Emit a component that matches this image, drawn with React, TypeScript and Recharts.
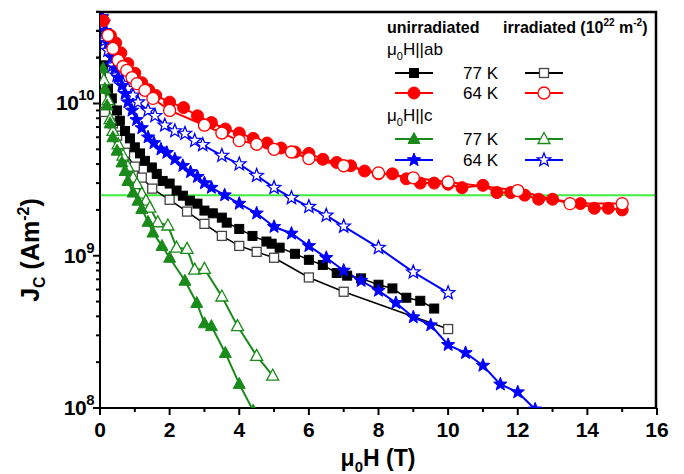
import { LineChart, Line, XAxis, YAxis, ReferenceLine } from "recharts"

const FONT = '"Liberation Sans", Arial, Helvetica, sans-serif'

// field (T), Jc (A/m^2)
const ab77Unirr: [number, number][] = [
  [0.09, 1.78e10], [0.23, 1.25e10], [0.34, 1.08e10], [0.49, 9.0e9], [0.57, 7.7e9], [0.72, 6.6e9],
  [0.86, 5.9e9], [1.0, 5.15e9], [1.15, 4.7e9], [1.29, 4.2e9], [1.49, 3.8e9], [1.63, 3.45e9],
  [1.8, 3.1e9], [2.0, 2.98e9], [2.2, 2.68e9], [2.38, 2.48e9], [2.58, 2.3e9], [2.8, 2.2e9],
  [3.0, 1.98e9], [3.24, 1.9e9], [3.5, 1.78e9], [3.64, 1.65e9], [4.0, 1.5e9], [4.38, 1.35e9],
  [4.78, 1.24e9], [4.93, 1.2e9], [5.16, 1.13e9], [5.6, 1.03e9], [6.0, 9.4e8], [6.4, 8.7e8],
  [6.8, 7.7e8], [7.1, 7.4e8], [7.5, 7.1e8], [8.0, 6.45e8], [8.4, 6.1e8], [8.8, 5.3e8],
  [9.2, 5.06e8], [9.6, 4.5e8],
]
const ab77Irr: [number, number][] = [
  [0.14, 8.8e9], [0.37, 7.4e9], [0.49, 6.15e9], [0.72, 4.75e9], [1.0, 3.85e9], [1.2, 3.26e9],
  [1.5, 2.76e9], [2.0, 2.33e9], [2.5, 1.95e9], [3.0, 1.62e9], [3.5, 1.35e9], [4.0, 1.16e9],
  [4.5, 1.06e9], [5.0, 9.7e8], [6.0, 7.2e8], [7.0, 5.8e8], [10.0, 3.3e8],
]
const ab64Unirr: [number, number][] = [
  [0.1, 3.5e10], [0.3, 2.8e10], [0.45, 2.5e10], [0.6, 2.15e10], [0.8, 1.83e10], [1.0, 1.58e10],
  [1.2, 1.37e10], [1.4, 1.23e10], [1.6, 1.13e10], [2.0, 1.02e10], [2.4, 9.4e9], [2.8, 8.3e9],
  [3.2, 7.5e9], [3.6, 6.8e9], [4.0, 6.4e9], [4.4, 5.9e9], [4.8, 5.5e9], [5.2, 5.1e9],
  [5.6, 4.8e9], [6.0, 4.7e9], [6.4, 4.3e9], [6.8, 4.1e9], [7.2, 3.9e9], [7.6, 3.6e9],
  [8.0, 3.45e9], [8.4, 3.45e9], [8.8, 3.2e9], [9.2, 3.0e9], [9.6, 3.0e9], [10.0, 2.95e9],
  [10.4, 2.8e9], [11.0, 2.9e9], [11.4, 2.6e9], [11.8, 2.6e9], [12.2, 2.5e9], [12.6, 2.35e9],
  [13.0, 2.35e9], [13.8, 2.2e9], [14.2, 2.05e9], [14.6, 2.05e9], [15.0, 2.0e9],
]
const ab64Irr: [number, number][] = [
  [0.23, 2.8e10], [0.37, 2.3e10], [0.52, 1.92e10], [0.66, 1.75e10], [0.77, 1.65e10], [0.92, 1.48e10],
  [1.06, 1.35e10], [1.29, 1.22e10], [1.52, 1.08e10], [2.0, 9.0e9], [3.0, 7.2e9], [3.5, 6.4e9],
  [4.0, 5.7e9], [4.5, 5.4e9], [5.0, 5.0e9], [5.5, 4.8e9], [6.0, 4.35e9], [7.0, 3.9e9],
  [8.0, 3.5e9], [9.0, 3.25e9], [10.0, 3.05e9], [12.0, 2.68e9], [13.5, 2.2e9], [15.0, 2.2e9],
]
const c77Unirr: [number, number][] = [
  [0.09, 1.7e10], [0.14, 1.25e10], [0.2, 9.7e9], [0.29, 7.4e9], [0.37, 6.0e9], [0.49, 4.9e9],
  [0.63, 4.1e9], [0.72, 3.6e9], [0.8, 3.1e9], [0.95, 2.6e9], [1.09, 2.3e9], [1.2, 2.03e9],
  [1.38, 1.67e9], [1.52, 1.42e9], [1.78, 1.16e9], [2.0, 9.7e8], [2.44, 6.85e8], [2.78, 4.9e8],
  [3.0, 3.6e8], [3.2, 3.45e8], [3.6, 2.3e8], [4.0, 1.44e8], [4.4, 9.6e7],
]
const c77Irr: [number, number][] = [
  [0.11, 1.42e10], [0.23, 1.05e10], [0.29, 7.9e9], [0.37, 6.6e9], [0.52, 5.4e9], [0.66, 4.55e9],
  [0.8, 3.85e9], [0.95, 3.26e9], [1.06, 2.95e9], [1.2, 2.56e9], [1.32, 2.3e9], [1.43, 2.07e9],
  [1.66, 1.66e9], [1.95, 1.58e9], [2.2, 1.13e9], [2.5, 1.11e9], [2.72, 8.1e8], [3.0, 8.2e8],
  [3.5, 5.4e8], [3.95, 3.45e8], [4.5, 2.2e8], [4.96, 1.63e8],
]
const c64Unirr: [number, number][] = [
  [0.06, 3.7e10], [0.14, 3.0e10], [0.23, 2.5e10], [0.34, 2.0e10], [0.43, 1.7e10], [0.52, 1.48e10],
  [0.63, 1.31e10], [0.72, 1.16e10], [0.8, 1.02e10], [0.92, 9.0e9], [1.05, 7.8e9], [1.2, 6.9e9],
  [1.38, 6.0e9], [1.55, 5.5e9], [1.75, 5.0e9], [1.92, 4.75e9], [2.15, 4.3e9], [2.38, 3.9e9],
  [2.6, 3.55e9], [2.8, 3.3e9], [3.0, 3.0e9], [3.2, 2.8e9], [3.58, 2.5e9], [4.0, 2.2e9],
  [4.5, 1.9e9], [5.0, 1.55e9], [5.5, 1.4e9], [6.0, 1.16e9], [6.5, 9.7e8], [7.0, 8.0e8],
  [7.5, 6.85e8], [8.0, 5.9e8], [8.5, 4.9e8], [9.0, 3.95e8], [9.5, 3.5e8], [10.0, 2.6e8],
  [10.5, 2.3e8], [11.0, 1.9e8], [11.5, 1.43e8], [12.0, 1.27e8], [12.5, 9.8e7],
]
const c64Irr: [number, number][] = [
  [0.09, 3.4e10], [0.14, 2.6e10], [0.23, 2.23e10], [0.37, 1.78e10], [0.49, 1.53e10], [0.66, 1.35e10],
  [0.8, 1.25e10], [0.95, 1.13e10], [1.09, 1.02e10], [1.38, 9.0e9], [1.58, 8.3e9], [1.86, 7.2e9],
  [2.15, 6.6e9], [2.44, 6.35e9], [2.72, 5.7e9], [2.95, 5.35e9], [3.5, 4.55e9], [4.0, 4.0e9],
  [4.5, 3.36e9], [5.0, 2.8e9], [5.5, 2.4e9], [6.0, 2.1e9], [6.5, 1.84e9], [7.0, 1.56e9],
  [8.0, 1.13e9], [9.0, 7.8e8], [10.0, 5.7e8],
]

const xTicks = [0, 1, 2, 3, 4, 5, 6, 7, 8, 9, 10, 11, 12, 13, 14, 15, 16]
const yDecades = [1e8, 1e9, 1e10]
const yTicks = [...yDecades.flatMap((d) => [1, 2, 3, 4, 5, 6, 7, 8, 9].map((m) => m * d)), 2e10, 3e10, 4e10]
const xDomain: [number, number] = [0, 16]
const yDomain: [number, number] = [1e8, 4.05e10]
const threshold = 2.5e9

// chart box
const W = 676
const H = 466
const MARGIN = { top: 3, right: 27, bottom: 6, left: 0 }
const Y_AXIS_W = 92
const X_AXIS_H = 60
const PLOT = {
  x: MARGIN.left + Y_AXIS_W,
  y: MARGIN.top,
  w: W - MARGIN.left - MARGIN.right - Y_AXIS_W,
  h: H - MARGIN.top - MARGIN.bottom - X_AXIS_H,
}

type Shape = "square" | "circle" | "triangle" | "star"

const SERIES = [
  { key: "ab77i", points: ab77Irr, color: "#000000", shape: "square" as Shape, open: true, width: 1.5 },
  { key: "ab77u", points: ab77Unirr, color: "#000000", shape: "square" as Shape, open: false, width: 1.5 },
  { key: "c77i", points: c77Irr, color: "#1a8a1a", shape: "triangle" as Shape, open: true, width: 2 },
  { key: "c77u", points: c77Unirr, color: "#1a8a1a", shape: "triangle" as Shape, open: false, width: 2 },
  { key: "c64i", points: c64Irr, color: "#0000ff", shape: "star" as Shape, open: true, width: 2 },
  { key: "c64u", points: c64Unirr, color: "#0000ff", shape: "star" as Shape, open: false, width: 2 },
  { key: "ab64u", points: ab64Unirr, color: "#ff0000", shape: "circle" as Shape, open: false, width: 2 },
  { key: "ab64i", points: ab64Irr, color: "#ff0000", shape: "circle" as Shape, open: true, width: 2 },
]

const starPoints = (cx: number, cy: number, R: number, r: number) => {
  const pts: string[] = []
  for (let i = 0; i < 10; i++) {
    const a = -Math.PI / 2 + (i * Math.PI) / 5
    const rad = i % 2 === 0 ? R : r
    pts.push(`${cx + rad * Math.cos(a)},${cy + rad * Math.sin(a)}`)
  }
  return pts.join(" ")
}

function Marker({ cx, cy, shape, color, open }: { cx: number; cy: number; shape: Shape; color: string; open: boolean }) {
  const fill = open ? "#ffffff" : color
  const sw = open ? 1.3 : 1
  if (shape === "square") return <rect x={cx - 4.5} y={cy - 4.5} width={9} height={9} fill={fill} stroke={open ? "#444" : color} strokeWidth={sw} />
  if (shape === "circle") return <circle cx={cx} cy={cy} r={6} fill={fill} stroke={color} strokeWidth={sw} />
  if (shape === "triangle")
    return <polygon points={`${cx},${cy - 6.5} ${cx - 6},${cy + 4.5} ${cx + 6},${cy + 4.5}`} fill={fill} stroke={color} strokeWidth={sw} />
  return <polygon points={starPoints(cx, cy, 7, 3)} fill={fill} stroke={color} strokeWidth={sw} />
}

function XTick({ x, y, payload }: any) {
  const major = payload.value % 2 === 0
  return (
    <g>
      <line x1={x} x2={x} y1={y} y2={y + (major ? 7 : 4)} stroke="#000" strokeWidth={2} />
      {major && (
        <text x={x} y={y + 29} textAnchor="middle" fontFamily={FONT} fontWeight="bold" fontSize={21} fill="#000">
          {payload.value}
        </text>
      )}
    </g>
  )
}

function YTick({ x, y, payload }: any) {
  const exp = Math.round(Math.log10(payload.value))
  const major = yDecades.includes(payload.value)
  return (
    <g>
      <line x1={x} x2={x - (major ? 7 : 4)} y1={y} y2={y} stroke="#000" strokeWidth={2} />
      {major && (
        <text x={x - 6} y={y + 7} textAnchor="end" fontFamily={FONT} fontWeight="bold" fontSize={21} fill="#000" letterSpacing={-0.5}>
          10<tspan dy={-10} fontSize={15}>{exp}</tspan>
        </text>
      )}
    </g>
  )
}

function LegendRow({ y, label, shape, color }: { y: number; label: string; shape: Shape; color: string }) {
  return (
    <g>
      <line x1={387} x2={425} y1={y} y2={y} stroke={color} strokeWidth={2} />
      <Marker cx={406} cy={y} shape={shape} color={color} open={false} />
      <text x={455} y={y + 6} fontFamily={FONT} fontSize={17} fill="#000">{label}</text>
      <line x1={517} x2={555} y1={y} y2={y} stroke={color} strokeWidth={2} />
      <Marker cx={536} cy={y} shape={shape} color={color} open={true} />
    </g>
  )
}

export default function App() {
  return (
    <div style={{ position: "relative", width: W, height: H }}>
      <LineChart width={W} height={H} margin={MARGIN}>
        <XAxis
          dataKey="x"
          type="number"
          domain={xDomain}
          ticks={xTicks}
          interval={0}
          allowDataOverflow
          height={X_AXIS_H}
          tickLine={false}
          tickSize={0}
          tickMargin={0}
          tick={<XTick />}
          axisLine={{ stroke: "#000", strokeWidth: 2 }}
        />
        <YAxis
          dataKey="y"
          type="number"
          scale="log"
          domain={yDomain}
          ticks={yTicks}
          interval={0}
          allowDataOverflow
          width={Y_AXIS_W}
          tickLine={false}
          tickSize={0}
          tickMargin={0}
          tick={<YTick />}
          axisLine={{ stroke: "#000", strokeWidth: 2 }}
        />
        <ReferenceLine y={threshold} stroke="#40ee40" strokeWidth={2} />
        {SERIES.map((s) => (
          <Line
            key={s.key}
            data={s.points.map(([x, y]) => ({ x, y }))}
            dataKey="y"
            type="linear"
            stroke={s.color}
            strokeWidth={s.width}
            isAnimationActive={false}
            dot={(p: any) => <Marker key={`${s.key}-${p.index}`} cx={p.cx} cy={p.cy} shape={s.shape} color={s.color} open={s.open} />}
            activeDot={false}
          />
        ))}
      </LineChart>
      <svg width={W} height={H} style={{ position: "absolute", left: 0, top: 0, pointerEvents: "none" }}>
        {/* plot frame: top and right edges */}
        <line x1={PLOT.x} x2={PLOT.x + PLOT.w} y1={PLOT.y + 1} y2={PLOT.y + 1} stroke="#000" strokeWidth={2.5} />
        <line x1={PLOT.x + PLOT.w - 1} x2={PLOT.x + PLOT.w - 1} y1={PLOT.y} y2={PLOT.y + PLOT.h} stroke="#000" strokeWidth={2.5} />
        <text x={370} y={458} textAnchor="middle" fontFamily={FONT} fontWeight="bold" fontSize={23} fill="#000">
          μ<tspan dy={6} fontSize={15}>0</tspan><tspan dy={-6}>H (T)</tspan>
        </text>
        <text transform="translate(31,242) rotate(-90)" textAnchor="middle" fontFamily={FONT} fontWeight="bold" fontSize={25} fill="#000">
          J<tspan dy={6} fontSize={16}>C</tspan><tspan dy={-6}> (Am</tspan><tspan dy={-10} fontSize={16}>-2</tspan><tspan dy={10}>)</tspan>
        </text>
        <text x={379} y={25} fontFamily={FONT} fontWeight="bold" fontSize={16} fill="#000">unirradiated</text>
        <text x={495} y={25} fontFamily={FONT} fontWeight="bold" fontSize={16} fill="#000">
          irradiated (10<tspan dy={-7} fontSize={10}>22</tspan><tspan dy={7}> m</tspan><tspan dy={-7} fontSize={10}>-2</tspan><tspan dy={7}>)</tspan>
        </text>
        <text x={379} y={47} fontFamily={FONT} fontSize={17} fill="#000">
          μ<tspan dy={5} fontSize={11}>0</tspan><tspan dy={-5}>H||ab</tspan>
        </text>
        <LegendRow y={65} label="77 K" shape="square" color="#000000" />
        <LegendRow y={85} label="64 K" shape="circle" color="#ff0000" />
        <text x={379} y={113} fontFamily={FONT} fontSize={17} fill="#000">
          μ<tspan dy={5} fontSize={11}>0</tspan><tspan dy={-5}>H||c</tspan>
        </text>
        <LegendRow y={131} label="77 K" shape="triangle" color="#1a8a1a" />
        <LegendRow y={152} label="64 K" shape="star" color="#0000ff" />
      </svg>
    </div>
  )
}
